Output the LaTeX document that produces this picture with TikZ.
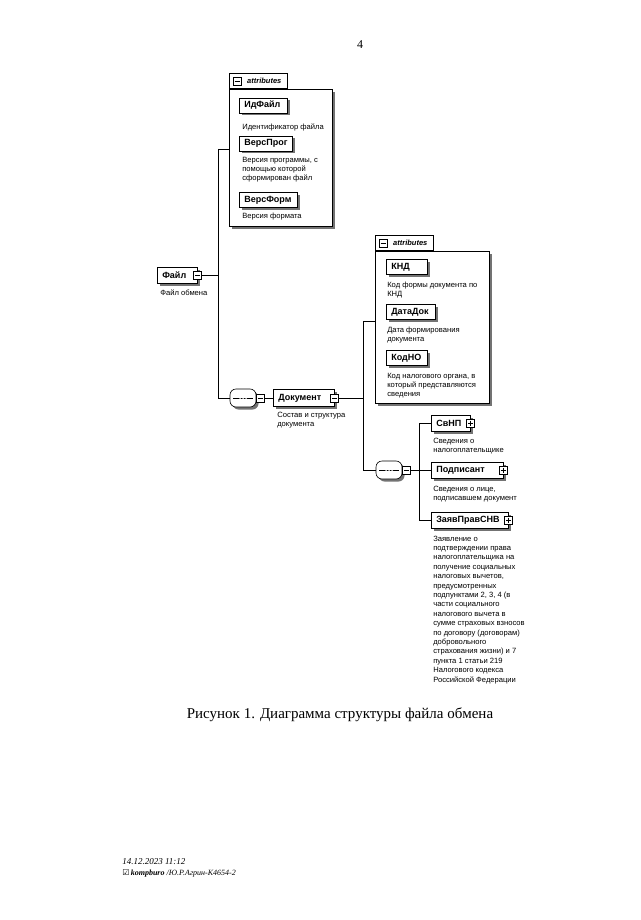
\documentclass[tikz,border=0pt]{standalone}
\usepackage{fontspec}
\setmainfont{Liberation Serif}
\setsansfont{Liberation Sans}
\newfontfamily\symfont{DejaVu Sans}
\usetikzlibrary{shadows}
\begin{document}
\begin{tikzpicture}[x=1pt,y=-1pt,line width=0.6pt,
    shad/.style={drop shadow={shadow xshift=2.5pt,shadow yshift=-2.5pt,fill=black!55,opacity=1}},
    elem/.style={draw,fill=white,shad,anchor=west,minimum height=16,inner xsep=5pt,inner ysep=0pt,align=left,
      font=\sffamily\bfseries\fontsize{9}{10}\selectfont},
    attr/.style={elem,minimum height=15},
    grp/.style={draw,fill=white,shad,anchor=north west,inner sep=0pt},
    tabbox/.style={draw,fill=white,anchor=south west,inner sep=0pt,minimum height=15,
      font=\sffamily\bfseries\itshape\fontsize{7.5}{9}\selectfont},
    desc/.style={anchor=north west,align=left,inner sep=0pt,font=\sffamily\fontsize{7.6}{9.4}\selectfont},
    minusbox/.style={draw,fill=white,minimum size=8,inner sep=0pt,
      path picture={\draw ([xshift=1.5pt]path picture bounding box.west) -- ([xshift=-1.5pt]path picture bounding box.east);}},
    plusbox/.style={minusbox,
      path picture={\draw ([xshift=1.5pt]path picture bounding box.west) -- ([xshift=-1.5pt]path picture bounding box.east);
        \draw ([yshift=-1.5pt]path picture bounding box.north) -- ([yshift=1.5pt]path picture bounding box.south);}},
    seq/.style={draw,fill=white,shad,rounded corners=6,minimum width=26,minimum height=18,inner sep=0pt,
      path picture={\draw ([xshift=3pt]path picture bounding box.west) -- ([xshift=-3pt]path picture bounding box.east);
        \foreach \d in {-3,0,3} \fill ([xshift=\d pt]path picture bounding box.center) circle (1pt);}}
  ]
  \useasboundingbox (0,0) rectangle (640,920);
  \node[font=\fontsize{12}{14}\selectfont] (pagenum) at (360,45) {4};

  \node[elem,text width=30] (file) at (157,275) {Файл};
  \node[minusbox] (fileM) at (file.east) {};
  \node[desc] (fileD) at (160,289.5) {Файл обмена};

  \node[grp,minimum width=103,minimum height=137] (attr1) at (229,89) {};
  \node[tabbox,minimum width=58] (tab1) at (attr1.north west) {\hspace*{12pt}attributes};
  \node[minusbox] (tab1M) at ([xshift=8]tab1.west) {};
  \node[attr,text width=38] (idfile) at (239,105.5) {ИдФайл};
  \node[desc] (idfileD) at (242,123.5) {Идентификатор файла};
  \node[attr,text width=43] (versprog) at (239,143.5) {ВерсПрог};
  \node[desc] (versprogD) at (242,156.5) {Версия программы, с\\помощью которой\\сформирован файл};
  \node[attr,text width=48] (versform) at (239,200) {ВерсФорм};
  \node[desc] (versformD) at (242,212.5) {Версия формата};

  \node[seq] (seq1) at (243,398) {};
  \node[minusbox] (seq1M) at ([xshift=4]seq1.east) {};
  \node[elem,text width=51,minimum height=17] (doc) at (273,398) {Документ};
  \node[minusbox] (docM) at (doc.east) {};
  \node[desc] (docD) at (277,411.5) {Состав и структура\\документа};

  \node[grp,minimum width=114,minimum height=152] (attr2) at (375,251) {};
  \node[tabbox,minimum width=58] (tab2) at (attr2.north west) {\hspace*{12pt}attributes};
  \node[minusbox] (tab2M) at ([xshift=8]tab2.west) {};
  \node[attr,text width=31] (knd) at (386,267) {КНД};
  \node[desc] (kndD) at (387,281.5) {Код формы документа по\\КНД};
  \node[attr,text width=39] (datadok) at (386,312) {ДатаДок};
  \node[desc] (datadokD) at (387,326.5) {Дата формирования\\документа};
  \node[attr,text width=31] (kodno) at (386,358) {КодНО};
  \node[desc] (kodnoD) at (387,372.5) {Код налогового органа, в\\который представляются\\сведения};

  \node[seq] (seq2) at (389,470) {};
  \node[minusbox] (seq2M) at ([xshift=4]seq2.east) {};
  \node[elem,text width=29] (svnp) at (431,423) {СвНП};
  \node[plusbox] (svnpP) at (svnp.east) {};
  \node[desc] (svnpD) at (433,437.5) {Сведения о\\налогоплательщике};
  \node[elem,text width=62] (podp) at (431,470) {Подписант};
  \node[plusbox] (podpP) at (podp.east) {};
  \node[desc] (podpD) at (433,485.5) {Сведения о лице,\\подписавшем документ};
  \node[elem,text width=67] (zayav) at (431,520) {ЗаявПравСНВ};
  \node[plusbox] (zayavP) at (zayav.east) {};
  \node[desc] (zayavD) at (433,535.5) {Заявление о\\подтверждении права\\налогоплательщика на\\получение социальных\\налоговых вычетов,\\предусмотренных\\подпунктами 2, 3, 4 (в\\части социального\\налогового вычета в\\сумме страховых взносов\\по договору (договорам)\\добровольного\\страхования жизни) и 7\\пункта 1 статьи 219\\Налогового кодекса\\Российской Федерации};

  \coordinate (j1) at (218,149);
  \coordinate (j2) at (363,321);
  \coordinate (j3) at (419,423);
  \draw (fileM.east) -- (fileM.east -| j1);
  \draw (j1) -- (j1 -| attr1.west);
  \draw (j1) -- (j1 |- seq1.west) -- (seq1.west);
  \draw (seq1M.east) -- (doc.west);
  \draw (docM.east) -- (docM.east -| j2);
  \draw (j2) -- (j2 -| attr2.west);
  \draw (j2) -- (j2 |- seq2.west) -- (seq2.west);
  \draw (seq2M.east) -- (seq2M.east -| j3);
  \draw (j3) -- (j3 |- zayav.west);
  \draw (j3) -- (svnp.west);
  \draw (j3 |- podp.west) -- (podp.west);
  \draw (j3 |- zayav.west) -- (zayav.west);

  \node[font=\fontsize{15}{17}\selectfont] (caption) at (340,715) {Рисунок 1. Диаграмма структуры файла обмена};
  \node[anchor=west,inner sep=0pt,font=\itshape\fontsize{9}{10}\selectfont] (stamp) at (122,862) {14.12.2023 11:12};
  \node[anchor=west,inner sep=0pt,font=\itshape\fontsize{8}{9}\selectfont] (stampB) at (122,873) {{\symfont\upshape ☑}\,\textbf{kompburo} /Ю.Р.Агрин-К4654-2};
\end{tikzpicture}
\end{document}
